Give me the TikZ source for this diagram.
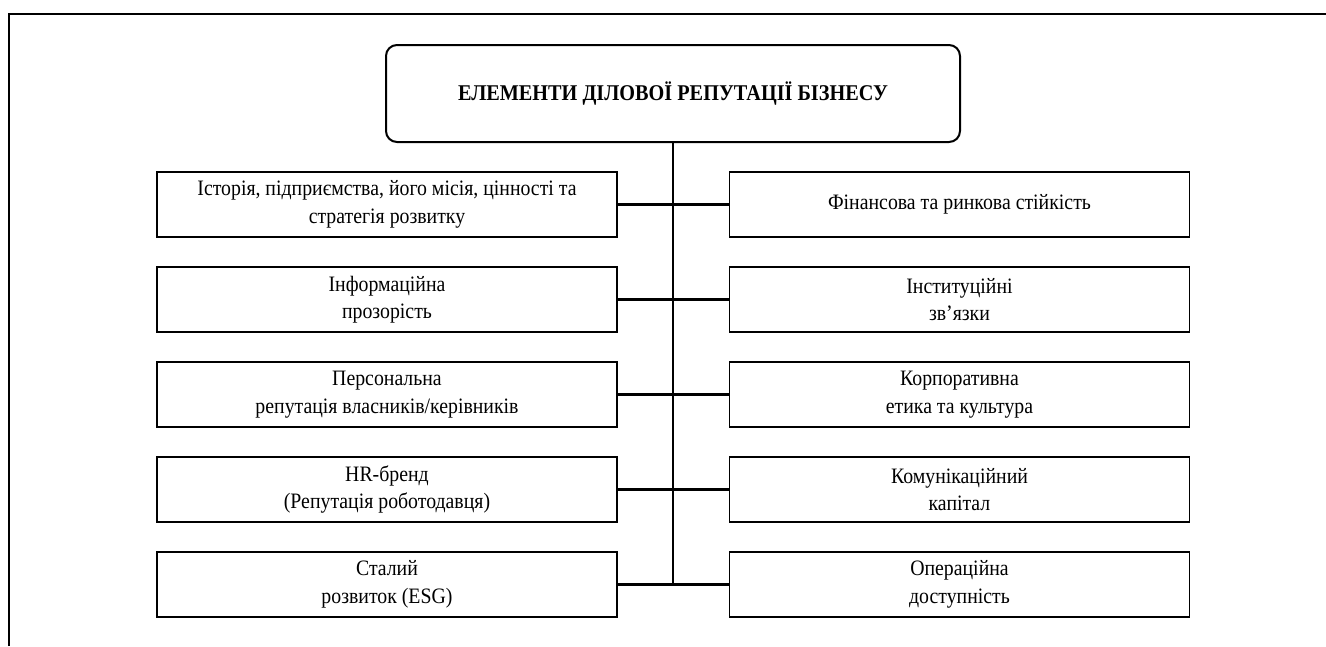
\documentclass[tikz,border=0pt]{standalone}
\usepackage{fontspec}
\setmainfont[FakeStretch=0.9]{Liberation Serif}
\begin{document}
\begin{tikzpicture}[x=1pt,y=-1pt,
  elem/.style={draw, line width=1.8pt, minimum width=460pt, minimum height=65pt, inner sep=0pt, align=center, font=\fontsize{22}{27.5}\selectfont},
  titlebox/.style={draw, line width=2pt, rounded corners=11pt, minimum width=574pt, minimum height=97pt, inner sep=0pt, align=center, font=\fontsize{22.5}{27}\selectfont\bfseries},
  trunk/.style={line width=2pt},
  branch/.style={line width=3pt}]
\useasboundingbox (0,0) rectangle (1326,646);
\draw[line width=2.2pt] (9,646) -- (9,14) -- (1326,14);
\node[titlebox] (t) at (673,93.5) {ЕЛЕМЕНТИ ДІЛОВОЇ РЕПУТАЦІЇ БІЗНЕСУ};
\node[elem] (l1) at (387,204.5) {Історія, підприємства, його місія, цінності та\\стратегія розвитку};
\node[elem] (l2) at (387,299.5) {Інформаційна\\прозорість};
\node[elem] (l3) at (387,394.5) {Персональна\\репутація власників/керівників};
\node[elem] (l4) at (387,489.5) {HR-бренд\\(Репутація роботодавця)};
\node[elem] (l5) at (387,584.5) {Сталий\\розвиток (ESG)};
\node[elem] (r1) at (959.5,204.5) {Фінансова та ринкова стійкість};
\node[elem] (r2) at (959.5,299.5) {Інституційні\\зв’язки};
\node[elem] (r3) at (959.5,394.5) {Корпоративна\\етика та культура};
\node[elem] (r4) at (959.5,489.5) {Комунікаційний\\капітал};
\node[elem] (r5) at (959.5,584.5) {Операційна\\доступність};
\coordinate (bot) at (673,584.5);
\draw[trunk] (t.south) -- (bot);
\foreach \i in {1,...,5}{
  \draw[branch] (l\i.east) -- (r\i.west);
}
\end{tikzpicture}
\end{document}
